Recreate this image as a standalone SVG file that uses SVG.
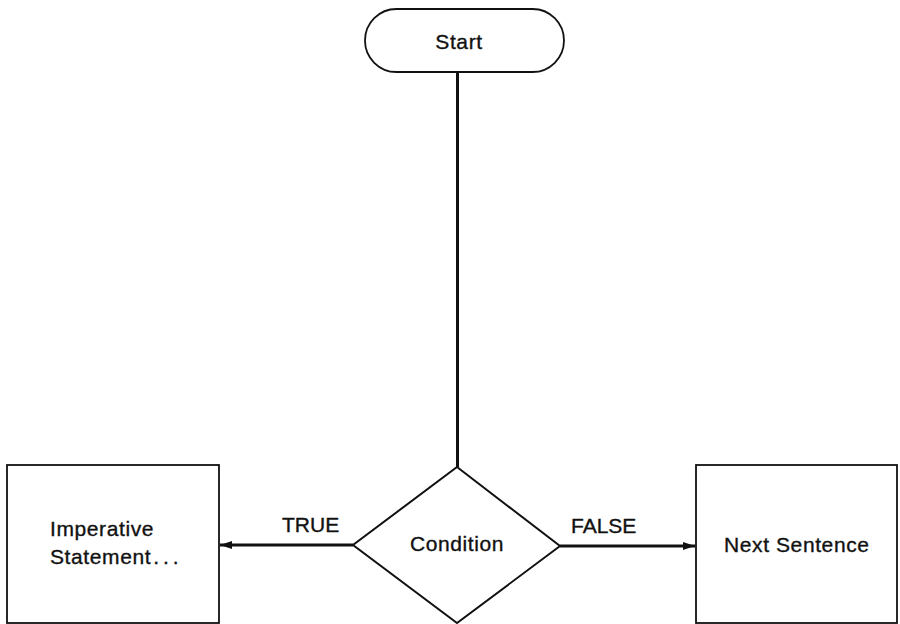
<svg xmlns="http://www.w3.org/2000/svg" width="900" height="624" viewBox="0 0 900 624">
  <style>
    .shape { fill: #ffffff; stroke: #111111; stroke-width: 1.8; }
    .diamond { stroke-width: 2; }
    .flow { fill: none; stroke: #111111; stroke-width: 3; }
    .label { font-family: "Liberation Sans", Arial, sans-serif; font-size: 21px; fill: #111111; stroke: #111111; stroke-width: 0.35; }
    .spaced { letter-spacing: 0.6px; }
    .dots { letter-spacing: 4px; }
  </style>
  <defs>
    <marker id="arrow" viewBox="0 0 12 8" refX="12" refY="4" markerWidth="12" markerHeight="8" markerUnits="userSpaceOnUse" orient="auto">
      <path d="M0,0 L12,4 L0,8 Z" fill="#111111"/>
    </marker>
  </defs>
  <rect width="900" height="624" fill="#ffffff"/>

  <!-- connectors -->
  <g id="connectors">
    <line class="flow" x1="457.5" y1="72" x2="457.5" y2="467"/>
    <line class="flow" x1="353" y1="545" x2="220" y2="545" marker-end="url(#arrow)"/>
    <line class="flow" x1="560" y1="546" x2="695" y2="546" marker-end="url(#arrow)"/>
  </g>

  <g id="start">
    <rect class="shape" x="365" y="9" width="199" height="63" rx="31.5" ry="31.5"/>
    <text class="label spaced" x="459" y="49" text-anchor="middle">Start</text>
  </g>

  <g id="condition">
    <polygon class="shape diamond" points="457,467 560,546 457,623 353,545"/>
    <text class="label spaced" x="457" y="551" text-anchor="middle">Condition</text>
  </g>

  <g id="imperative">
    <rect class="shape" x="7" y="465" width="212" height="158"/>
    <text class="label spaced" x="50" y="536">Imperative</text>
    <text class="label spaced" x="50" y="564">Statement<tspan class="dots" dx="2">...</tspan></text>
  </g>

  <g id="next-sentence">
    <rect class="shape" x="696" y="465" width="201" height="158"/>
    <text class="label spaced" x="724" y="552">Next Sentence</text>
  </g>

  <g id="edge-labels">
    <text class="label" x="282" y="532">TRUE</text>
    <text class="label" x="571" y="533">FALSE</text>
  </g>
</svg>
